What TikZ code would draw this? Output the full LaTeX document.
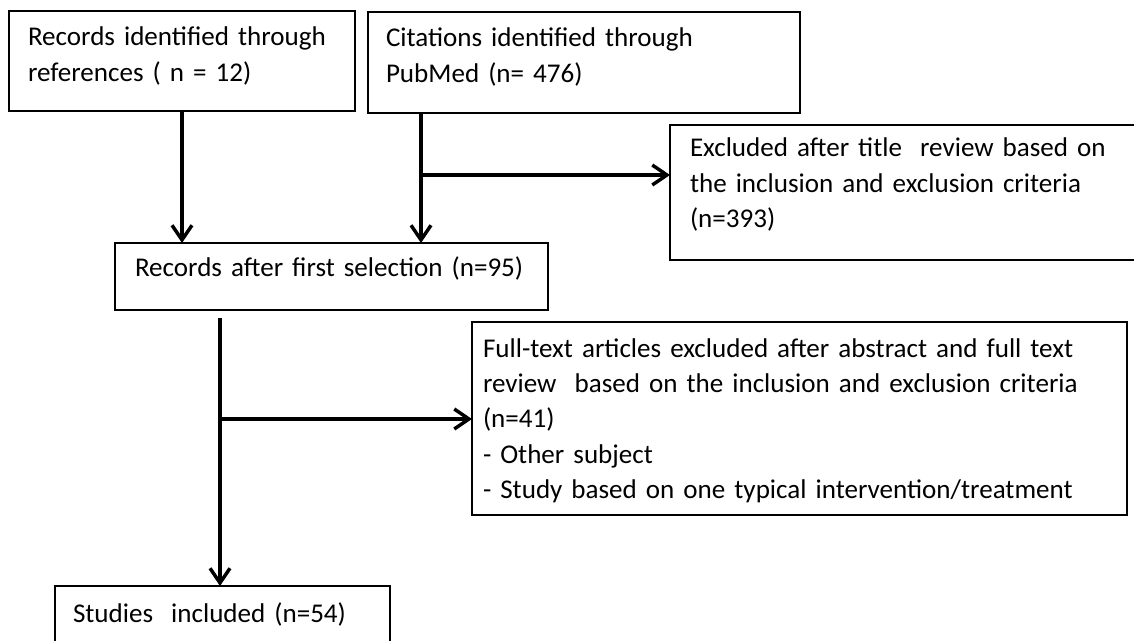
\documentclass[tikz,border=0pt]{standalone}
\usepackage{fontspec}
\setmainfont{Carlito}
\usetikzlibrary{arrows.meta}

\newcommand\boxfont{\fontsize{20.3}{26.6}\selectfont}

\tikzset{
  box/.style={draw, line width=1pt, anchor=north west, inner ysep=0pt, outer sep=0pt,
    align=left, font=\boxfont},
  flow/.style={line width=2.6pt, -{Straight Barb[length=11pt,width=15pt]}},
}

\begin{document}
\begin{tikzpicture}[x=0.75pt,y=-0.75pt]
\useasboundingbox (0,0) rectangle (1134,641);
\clip (0,0) rectangle (1134,641);

% boxes
\node[box, inner xsep=14.25pt, text width=231pt, text height=26.25pt, text depth=48.75pt]
  (refs) at (9,11) {Records identified through\\references ( n = 12)};
\node[box, inner xsep=13.5pt, text width=297pt, text height=26.25pt, text depth=49.5pt]
  (pubmed) at (368,12) {Citations identified through\\PubMed (n= 476)};
\node[box, inner xsep=15pt, text width=294.75pt, text height=25.5pt, text depth=24.75pt]
  (first) at (115,243) {Records after first selection (n=95)};
\node[box, inner xsep=15pt, text width=322.5pt, text height=24pt, text depth=77.25pt]
  (title) at (670,125) {Excluded after title~ review based on\\the inclusion and exclusion criteria\\(n=393)};
\node[box, inner xsep=8.25pt, text width=474.75pt, text height=26.25pt, text depth=118.5pt,
  font=\fontsize{20.3}{26.6}\selectfont]
  (fulltext) at (472,322) {Full-text articles excluded after abstract and full text\\review~ based on the inclusion and exclusion criteria\\(n=41)\\- Other subject\\- Study based on one typical intervention/treatment};
\node[box, inner xsep=13.5pt, text width=224.25pt, text height=27pt, text depth=36pt]
  (included) at (55,586) {Studies~ included (n=54)};

% arrows
\coordinate (split1) at (421,175);
\coordinate (split2) at (220,419);
\coordinate (firstout) at (220,318);

\draw[flow] (refs.south) -- (refs.south |- first.north);
\draw[flow] (pubmed.south -| split1) -- (first.north -| split1);
\draw[flow] (split1) -- (title.west |- split1);
\draw[flow] (firstout) -- (included.north -| firstout);
\draw[flow] (split2) -- (fulltext.west |- split2);
\end{tikzpicture}
\end{document}
